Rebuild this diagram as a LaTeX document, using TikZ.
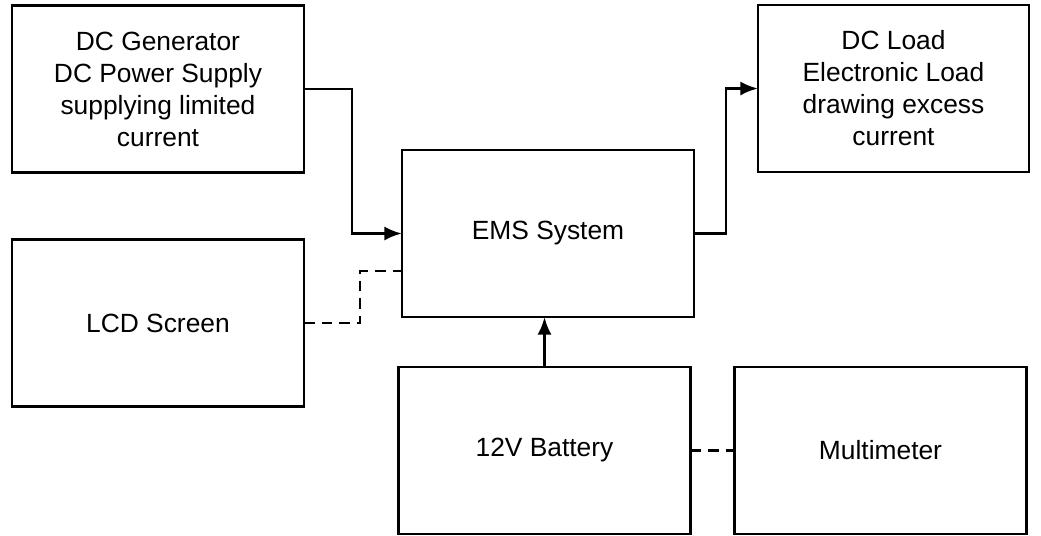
\documentclass[tikz,border=0pt]{standalone}
\usepackage{fontspec}
\setmainfont{Liberation Sans}
\usepackage{tikz}
\usetikzlibrary{arrows.meta,positioning}

\begin{document}
\begin{tikzpicture}[
    box/.style={draw, line width=1.6pt, align=center, inner sep=0pt, outer sep=0pt,
      minimum height=3.34cm, minimum width=5.84cm, fill=white,
      font=\fontsize{15}{18.2}\selectfont},
    arr/.style={-{Latex[length=10pt,width=8pt]}, line width=1.6pt},
    link/.style={line width=1.6pt, dash pattern=on 6pt off 4pt}
  ]
    \useasboundingbox (0,0) rectangle (20.82,-10.7);

    \node[box] (gen) at (3.16,-1.78) {DC Generator\\DC Power Supply\\supplying limited\\current};
    \node[box, below=1.34cm of gen] (lcd) {LCD Screen};
    \node[box, right=1.96cm of gen, yshift=-2.89cm] (ems) {EMS System};
    \node[box, minimum width=5.42cm, right=1.28cm of ems, yshift=2.9cm] (load) {DC Load\\Electronic Load\\drawing excess\\current};
    \node[box, below=1.0cm of ems, xshift=-0.07cm] (bat) {12V Battery};
    \node[box, right=0.88cm of bat] (meter) {Multimeter};

    \draw[arr] (gen.east) -- ++(0.96,0) |- (ems.west);
    \draw[arr] (ems.east) -- ++(0.64,0) |- (load.west);
    \draw[arr] (bat.north) -- (bat.north |- ems.south);
    \draw[link] (lcd.east) -- ++(1.12,0) |- ([yshift=-0.75cm]ems.west);
    \draw[link] (bat.east) -- (meter.west);
  \end{tikzpicture}
\end{document}
